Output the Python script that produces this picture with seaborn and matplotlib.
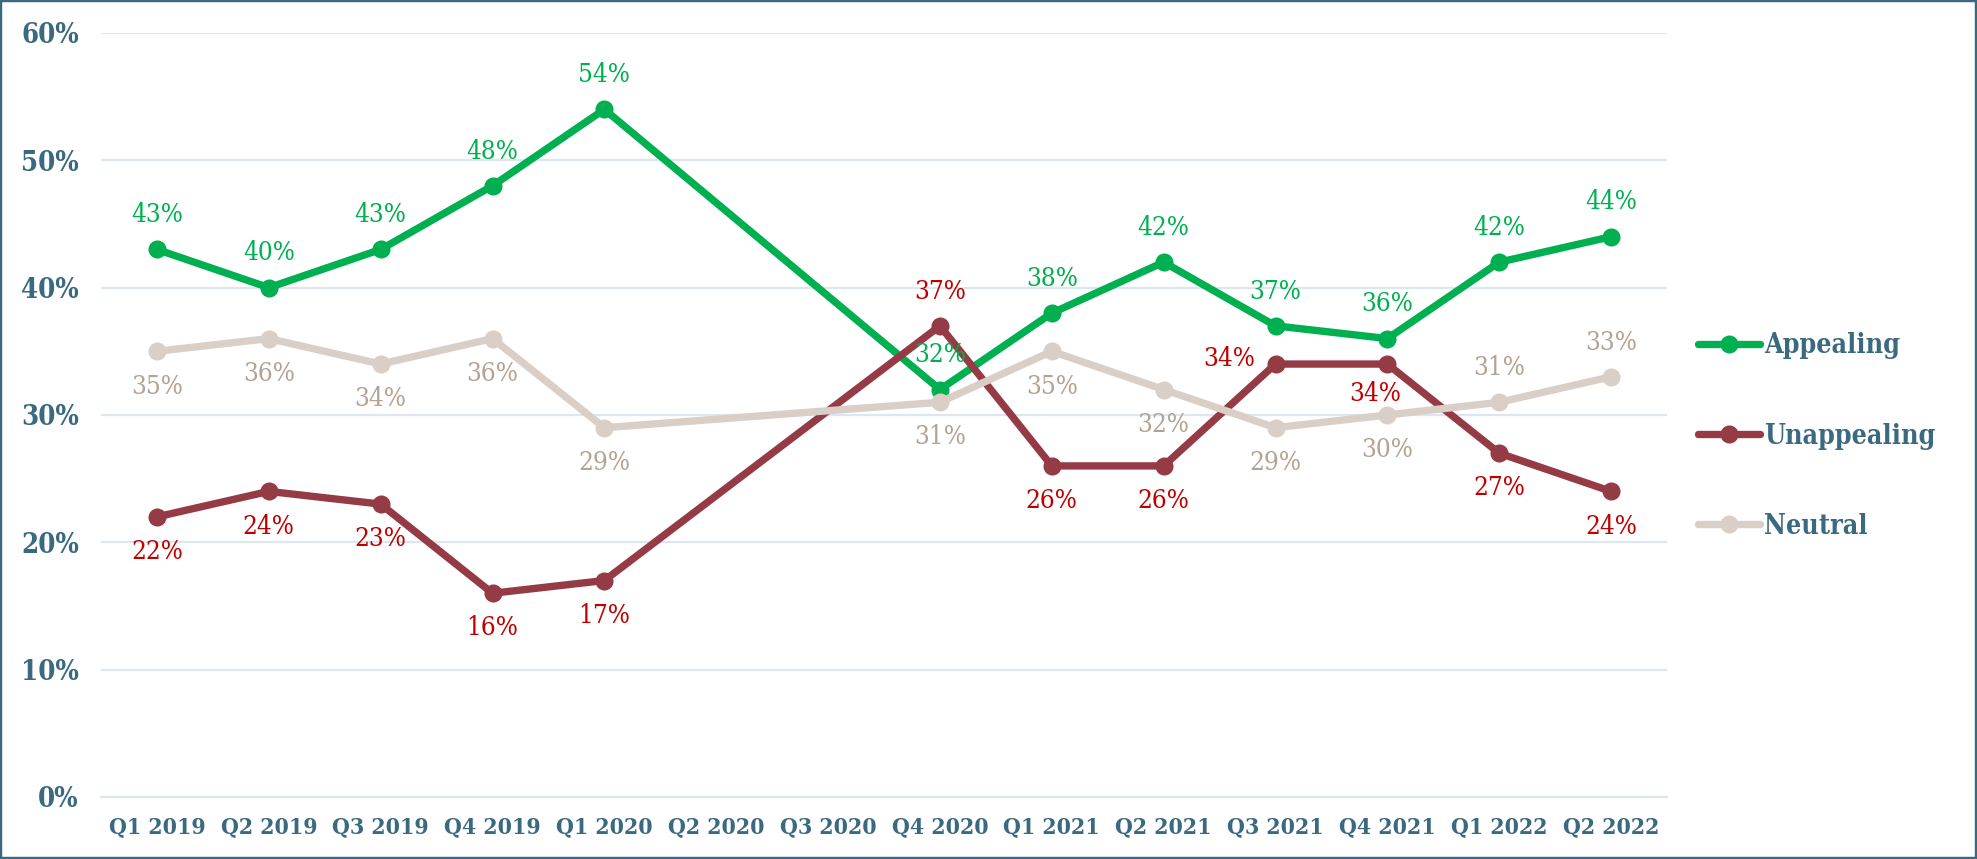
import numpy as np
import pandas as pd
import seaborn as sns
import matplotlib.pyplot as plt
from matplotlib.patches import Rectangle
from matplotlib.lines import Line2D
from matplotlib import font_manager as fm

# ---------------- data ----------------
quarters = ["Q1 2019", "Q2 2019", "Q3 2019", "Q4 2019", "Q1 2020", "Q2 2020", "Q3 2020",
            "Q4 2020", "Q1 2021", "Q2 2021", "Q3 2021", "Q4 2021", "Q1 2022", "Q2 2022"]
appealing = [43, 40, 43, 48, 54, np.nan, np.nan, 32, 38, 42, 37, 36, 42, 44]
unappealing = [22, 24, 23, 16, 17, np.nan, np.nan, 37, 26, 26, 34, 34, 27, 24]
neutral = [35, 36, 34, 36, 29, np.nan, np.nan, 31, 35, 32, 29, 30, 31, 33]
series_names = ["Appealing", "Unappealing", "Neutral"]
y_ticks = [0, 10, 20, 30, 40, 50, 60]

# ---------------- style ----------------
line_colors = {"Appealing": "#00b050", "Unappealing": "#943b45", "Neutral": "#dacfc6"}
label_colors = {"Appealing": "#00b050", "Unappealing": "#c00000", "Neutral": "#b3a394"}
axis_text = "#3a6a80"
grid_col = "#dde7f0"

# label placement (offset points) per series, per point
UP, DOWN = (0, 25), (0, -25)
placements = {
    "Appealing": [UP] * 14,
    "Unappealing": [DOWN] * 14,
    "Neutral": [DOWN] * 14,
}
placements["Unappealing"][7] = UP
placements["Unappealing"][10] = (-33, 4)
placements["Unappealing"][11] = (-9, -21)
placements["Neutral"][12] = UP
placements["Neutral"][13] = UP

sns.set_theme(style="white")
plt.rcParams["font.family"] = ["DejaVu Serif"]

# use the condensed cut of DejaVu Serif if it is installed (closer to the reference's narrow digits)
_f = fm.findfont(fm.FontProperties(family="DejaVu Serif", stretch="condensed"), fallback_to_default=True)
condensed = "Condensed" in _f
stretch = "condensed" if condensed else "normal"
k = 1.1 if condensed else 1.0

values = {"Appealing": appealing, "Unappealing": unappealing, "Neutral": neutral}
rows = []
for name in series_names:
    for i, (q, v) in enumerate(zip(quarters, values[name])):
        rows.append({"pos": i, "quarter": q, "series": name, "value": v})
df = pd.DataFrame(rows).dropna(subset=["value"])

fig = plt.figure(figsize=(19.77, 8.59), dpi=100)
ax = fig.add_axes([0.0511, 0.0722, 0.7921, 0.8894])

sns.lineplot(data=df, x="pos", y="value", hue="series", hue_order=series_names,
             palette=line_colors, marker="o", markersize=13, markeredgewidth=0,
             linewidth=5.3, sort=False, legend=False, ax=ax)

# data labels
for name in series_names:
    for i, v in enumerate(values[name]):
        if np.isnan(v):
            continue
        ax.annotate(f"{v:.0f}%", (i, v), xytext=placements[name][i],
                    textcoords="offset points", ha="center", va="center",
                    fontsize=17 * k, fontstretch=stretch, color=label_colors[name], zorder=5)

# axes formatting
ax.set_xlim(-0.5, len(quarters) - 0.5)
ax.set_ylim(0, 60)
ax.set_yticks(y_ticks)
ax.set_yticklabels([f"{t}%" for t in y_ticks])
ax.set_xticks(range(len(quarters)))
ax.set_xticklabels(quarters)
ax.set_xticks([len(quarters) - 0.5], minor=True)
ax.set_xlabel("")
ax.set_ylabel("")
ax.grid(axis="y", color=grid_col, linewidth=1.6)
ax.set_axisbelow(True)
for s in ["left", "right", "top"]:
    ax.spines[s].set_visible(False)
ax.spines["bottom"].set_color(grid_col)
ax.spines["bottom"].set_linewidth(1.6)
ax.tick_params(axis="y", length=0, pad=16, labelsize=18 * k, labelcolor=axis_text)
for lab in ax.get_yticklabels():
    lab.set_fontweight("bold")
    lab.set_fontstretch(stretch)
ax.tick_params(axis="x", which="both", direction="inout", length=8, width=1.5,
               color=grid_col, pad=10, labelsize=15 * k, labelcolor=axis_text)
for lab in ax.get_xticklabels():
    lab.set_fontweight("bold")
    lab.set_fontstretch(stretch)

# legend
handles = [Line2D([0], [0], color=line_colors[n], lw=5.3, marker="o", markersize=13,
                  markeredgewidth=0) for n in series_names]
leg = fig.legend(handles, series_names, loc="center left", bbox_to_anchor=(0.8589, 0.4924),
                 frameon=False, borderpad=0, borderaxespad=0, handlelength=2.55 / k,
                 handletextpad=0.15, labelspacing=2.6 / k,
                 prop={"family": "DejaVu Serif", "weight": "bold", "size": 17.5 * k,
                       "stretch": stretch})
for t in leg.get_texts():
    t.set_color(axis_text)

# outer frame
fig.patches.append(Rectangle((0, 0), 1, 1, transform=fig.transFigure, fill=False,
                             edgecolor=axis_text, linewidth=3.2, zorder=10))

fig.savefig("out.png", dpi=100, facecolor="white")
